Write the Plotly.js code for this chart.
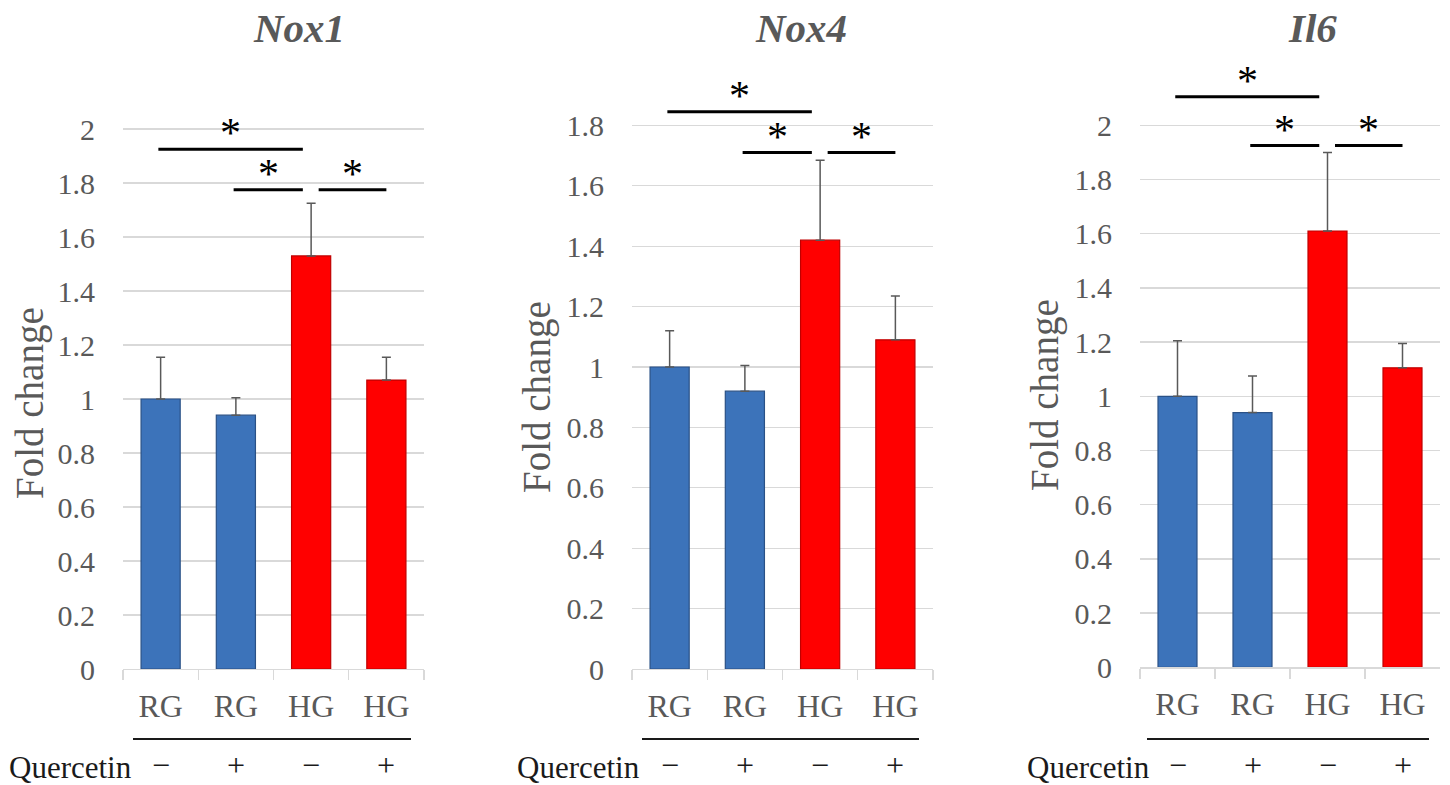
<!DOCTYPE html>
<html>
<head>
<meta charset="utf-8">
<script src="https://cdn.plot.ly/plotly-3.0.1.min.js"></script>
<style>html,body{margin:0;padding:0;background:#fff;}#chart{width:1450px;height:785px;}</style>
</head>
<body>
<div id="chart"></div>
<script>
// ---- data ----
const genes = ["Nox1", "Nox4", "Il6"];
const categories = ["RG", "RG", "HG", "HG"];
const quercetin = ["\u2212", "+", "\u2212", "+"];
const groupColors = ["blue", "blue", "red", "red"];
const yTitle = "Fold change";
const rowLabel = "Quercetin";

const nox1Mean = [1.00, 0.94, 1.53, 1.07];
const nox1Err  = [0.155, 0.065, 0.195, 0.085];
const nox4Mean = [1.00, 0.92, 1.42, 1.09];
const nox4Err  = [0.12, 0.085, 0.265, 0.145];
const il6Mean  = [1.00, 0.94, 1.61, 1.105];
const il6Err   = [0.205, 0.135, 0.29, 0.09];

// significance comparisons: [fromGroup, toGroup]
const sigPairs = [[0, 2], [1, 2], [2, 3]];
const nox1SigLevel = [1.925, 1.775, 1.775];
const nox4SigLevel = [1.845, 1.71, 1.71];
const il6SigLevel  = [2.105, 1.925, 1.925];

const nox1Ticks = [0, 0.2, 0.4, 0.6, 0.8, 1, 1.2, 1.4, 1.6, 1.8, 2];
const nox4Ticks = [0, 0.2, 0.4, 0.6, 0.8, 1, 1.2, 1.4, 1.6, 1.8];
const il6Ticks  = [0, 0.2, 0.4, 0.6, 0.8, 1, 1.2, 1.4, 1.6, 1.8, 2];

// ---- styling ----
const W = 1450, H = 785;
const GRAY = "#595959";
const FONT = "'Liberation Serif', 'Times New Roman', serif";
const fill = {blue: "#3C73BA", red: "#FF0000"};
const edge = {blue: "#2A5186", red: "#C00000"};

// unique category keys (zero-width spaces) so repeated labels stay separate
const catKeys = categories.map((c, i) => c + "\u200b".repeat(i));

const panels = [
  {mean: nox1Mean, err: nox1Err, sig: nox1SigLevel, ticks: nox1Ticks, top: 2.1,
   xdom: [123, 424], y0: 669, ppu: 270, title: 299, qx: 70,  line: [133, 411], yt: [30, 403]},
  {mean: nox4Mean, err: nox4Err, sig: nox4SigLevel, ticks: nox4Ticks, top: 1.95,
   xdom: [632, 933], y0: 669, ppu: 302, title: 801, qx: 578, line: [642, 919], yt: [537, 397]},
  {mean: il6Mean, err: il6Err, sig: il6SigLevel, ticks: il6Ticks, top: 2.25,
   xdom: [1140, 1440], y0: 667.3, ppu: 271, title: 1312, qx: 1088, line: [1147, 1429], yt: [1045, 395]}
];

const traces = [];
const shapes = [];
const annotations = [];
const layout = {
  width: W, height: H,
  margin: {l: 0, r: 0, t: 0, b: 0},
  paper_bgcolor: "#fff", plot_bgcolor: "#fff",
  showlegend: false,
  bargap: 0.48,
  font: {family: FONT, color: GRAY}
};

panels.forEach((p, k) => {
  const n = k === 0 ? "" : String(k + 1);
  const xa = "x" + n, ya = "y" + n;
  traces.push({
    type: "bar",
    x: catKeys, y: p.mean,
    xaxis: xa, yaxis: ya,
    marker: {
      color: groupColors.map(g => fill[g]),
      line: {color: groupColors.map(g => edge[g]), width: 1.2}
    },
    error_y: {type: "data", array: p.err, symmetric: false, arrayminus: p.err.map(() => 0),
              color: GRAY, thickness: 1.5, width: 4.5},
    hoverinfo: "skip"
  });
  const ydomB = 1 - p.y0 / H;
  const ydomT = 1 - (p.y0 - p.top * p.ppu) / H;
  layout["xaxis" + n] = {
    domain: [p.xdom[0] / W, p.xdom[1] / W],
    anchor: ya,
    type: "category",
    categoryorder: "array", categoryarray: catKeys,
    range: [-0.5, 3.5],
    tickson: "boundaries",
    ticks: "outside", ticklen: 10, tickcolor: "#D9D9D9", tickwidth: 1.3,
    showline: true, linecolor: "#D9D9D9", linewidth: 1.3,
    showgrid: false, zeroline: false,
    ticklabelstandoff: 8,
    tickfont: {family: FONT, size: 32, color: GRAY},
    fixedrange: true
  };
  layout["yaxis" + n] = {
    domain: [ydomB, ydomT],
    anchor: xa,
    range: [0, p.top],
    tickmode: "array", tickvals: p.ticks,
    ticktext: p.ticks.map(v => String(v)),
    showgrid: true, gridcolor: "#D9D9D9", gridwidth: 1.3,
    zeroline: false, showline: false, ticks: "",
    ticklabelstandoff: 27,
    tickfont: {family: FONT, size: 30, color: GRAY},
    fixedrange: true
  };
  // y axis title
  annotations.push({
    text: yTitle, xref: "paper", yref: "paper", textangle: -90,
    x: p.yt[0] / W, y: 1 - p.yt[1] / H, xanchor: "center", yanchor: "middle",
    showarrow: false, font: {family: FONT, size: 39, color: GRAY}
  });
  // gene title
  annotations.push({
    text: "<b><i>" + genes[k] + "</i></b>", xref: "paper", yref: "paper",
    x: p.title / W, y: 1 - 28 / H, xanchor: "center", yanchor: "middle",
    showarrow: false, font: {family: FONT, size: 41, color: GRAY}
  });
  // significance brackets
  sigPairs.forEach((pr, j) => {
    const xs = pr[0] === 2 ? pr[0] + 0.1 : pr[0] - 0.03;
    const x1 = pr[1] === 2 ? pr[1] - 0.11 : pr[1];
    shapes.push({type: "line", xref: xa, yref: ya, x0: xs, x1: x1,
                 y0: p.sig[j], y1: p.sig[j], line: {color: "#000", width: 3}});
    annotations.push({text: "*", xref: xa, yref: ya, x: (xs + x1) / 2, y: p.sig[j],
                      xanchor: "center", yanchor: "middle", yshift: 16, showarrow: false,
                      font: {family: FONT, size: 42, color: "#000"}});
  });
  // underline and quercetin row
  shapes.push({type: "line", xref: "paper", yref: "paper",
               x0: p.line[0] / W, x1: p.line[1] / W, y0: 1 - 739 / H, y1: 1 - 739 / H,
               line: {color: "#1a1a1a", width: 2}});
  annotations.push({text: rowLabel, xref: "paper", yref: "paper",
                    x: p.qx / W, y: 1 - 767 / H, xanchor: "center", yanchor: "middle",
                    showarrow: false, font: {family: FONT, size: 31, color: "#1a1a1a"}});
  quercetin.forEach((s, i) => {
    annotations.push({text: s, xref: xa, yref: "paper", x: catKeys[i], y: 1 - 765 / H,
                      xanchor: "center", yanchor: "middle", showarrow: false,
                      font: {family: FONT, size: 32, color: "#1a1a1a"}});
  });
});

layout.shapes = shapes;
layout.annotations = annotations;

Plotly.newPlot("chart", traces, layout, {displayModeBar: false, staticPlot: true});
</script>
</body>
</html>
